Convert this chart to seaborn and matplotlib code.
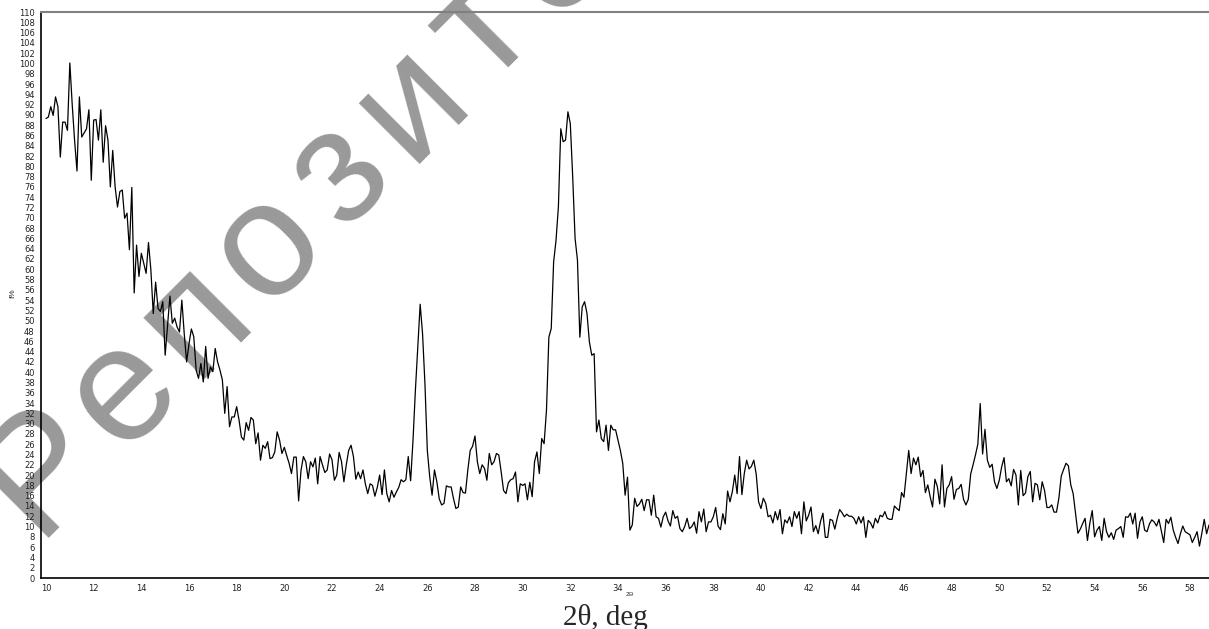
import numpy as np
import pandas as pd
import matplotlib
matplotlib.use("Agg")
import matplotlib.pyplot as plt
from matplotlib.ticker import MultipleLocator
import seaborn as sns

# XRD pattern, 2theta from 10.0 deg with a 0.1 deg step
two_theta_start = 10.0
two_theta_step = 0.1
intensity = [
    89.3, 89.6, 91.6, 89.9, 93.5, 91.6, 81.8, 88.6, 88.6, 87.0,   # 10
    100.1, 92.0, 85.0, 79.1, 93.5, 85.7, 86.5, 87.3, 91.0, 77.3,  # 11
    89.0, 89.1, 85.1, 91.0, 80.8, 87.9, 85.1, 76.0, 83.1, 76.0,   # 12
    72.1, 75.1, 75.4, 69.9, 70.9, 63.8, 75.9, 55.4, 64.7, 58.6,   # 13
    63.1, 61.2, 59.2, 65.2, 59.9, 51.4, 57.5, 52.4, 51.8, 53.7,   # 14
    43.3, 49.0, 54.8, 49.5, 50.5, 48.8, 47.8, 54.0, 47.5, 42.0,   # 15
    45.5, 48.4, 46.9, 40.4, 38.8, 41.7, 38.1, 45.0, 38.8, 41.0,   # 16
    40.1, 44.6, 42.0, 40.4, 38.5, 32.0, 37.2, 29.4, 31.3, 31.3,   # 17
    33.3, 30.7, 27.4, 26.8, 30.2, 28.7, 31.2, 30.7, 26.1, 28.2,   # 18
    22.9, 25.8, 25.2, 26.5, 23.2, 23.4, 24.5, 28.4, 26.8, 24.2,   # 19
    25.4, 23.8, 22.3, 20.3, 23.5, 23.5, 15.0, 20.9, 23.6, 22.6,   # 20
    19.3, 22.6, 21.6, 23.3, 18.3, 23.6, 22.0, 20.5, 21.0, 24.1,   # 21
    23.0, 19.0, 20.0, 24.4, 22.6, 18.7, 22.0, 24.8, 25.8, 23.6,   # 22
    19.2, 20.6, 19.3, 21.0, 18.3, 16.4, 18.3, 18.0, 15.9, 17.6,   # 23
    20.0, 16.2, 21.0, 16.4, 14.8, 17.0, 15.7, 16.7, 17.6, 19.1,   # 24
    18.7, 19.1, 23.6, 18.9, 26.8, 36.5, 44.9, 53.2, 47.5, 37.8,   # 25
    24.8, 19.7, 16.1, 21.0, 18.7, 15.4, 14.2, 14.5, 17.9, 17.7,   # 26
    17.7, 15.4, 13.5, 13.8, 17.7, 16.6, 16.5, 21.0, 24.8, 25.6,   # 27
    27.6, 22.6, 20.3, 22.0, 21.3, 19.0, 24.2, 22.0, 22.6, 24.2,   # 28
    23.9, 20.6, 17.0, 16.4, 18.5, 19.1, 19.3, 20.6, 14.8, 18.3,   # 29
    18.0, 18.3, 15.2, 18.6, 15.8, 22.6, 24.5, 20.3, 27.1, 26.1,   # 30
    32.6, 46.8, 48.5, 61.4, 65.6, 72.1, 87.3, 84.8, 85.1, 90.6,   # 31
    88.3, 78.0, 66.0, 61.8, 46.8, 52.7, 53.7, 51.4, 45.9, 43.3,   # 32
    43.6, 28.4, 30.7, 27.1, 26.5, 29.7, 24.8, 29.7, 28.8, 28.8,   # 33
    26.8, 24.8, 22.3, 16.1, 19.6, 9.3, 10.3, 15.5, 13.9, 14.4,    # 34
    15.3, 13.1, 15.2, 15.2, 12.2, 16.1, 11.9, 11.6, 9.9, 11.9,    # 35
    12.8, 11.1, 10.1, 13.1, 11.6, 12.0, 9.6, 9.0, 10.0, 11.6,     # 36
    9.6, 10.0, 10.9, 8.7, 12.9, 10.9, 13.4, 9.0, 10.9, 10.9,      # 37
    11.9, 13.7, 10.1, 9.4, 12.5, 10.5, 16.9, 14.8, 16.8, 20.0,    # 38
    16.4, 23.6, 16.2, 20.3, 22.9, 21.2, 21.7, 22.9, 20.2, 14.8,   # 39
    13.5, 15.5, 14.5, 11.9, 12.2, 10.7, 12.9, 11.3, 13.3, 8.6,    # 40
    11.3, 10.7, 11.9, 10.0, 12.9, 11.6, 12.9, 8.6, 14.8, 11.1,    # 41
    12.2, 13.8, 9.0, 10.2, 8.6, 11.0, 12.6, 7.9, 7.9, 11.4,       # 42
    11.2, 9.5, 11.6, 13.3, 12.7, 11.9, 12.4, 12.0, 12.0, 11.6,    # 43
    10.5, 11.9, 10.7, 11.9, 7.9, 11.2, 10.7, 9.7, 11.6, 10.7,     # 44
    12.2, 11.9, 12.9, 11.6, 11.4, 11.4, 14.0, 13.5, 13.1, 16.6,   # 45
    15.7, 20.2, 24.8, 20.3, 23.3, 22.0, 23.5, 19.7, 20.9, 16.6,   # 46
    18.1, 15.8, 13.8, 19.2, 17.8, 14.4, 22.0, 13.8, 17.4, 18.1,   # 47
    19.7, 15.3, 17.2, 17.4, 18.2, 15.3, 14.2, 15.3, 20.2, 22.0,   # 48
    23.9, 26.0, 33.9, 24.1, 28.9, 22.9, 21.5, 22.1, 18.7, 17.4,   # 49
    19.0, 21.6, 23.4, 18.7, 19.3, 17.9, 21.1, 20.0, 14.2, 20.9,   # 50
    16.0, 16.5, 19.7, 20.7, 14.8, 18.4, 18.1, 15.2, 18.7, 17.0,   # 51
    13.7, 13.7, 14.2, 12.8, 12.8, 15.5, 19.8, 21.1, 22.3, 21.8,   # 52
    18.1, 16.4, 12.6, 8.7, 9.5, 10.6, 11.6, 7.3, 10.7, 13.1,      # 53
    8.0, 9.3, 10.0, 7.3, 11.6, 9.0, 7.9, 8.8, 7.5, 9.3,           # 54
    9.6, 10.0, 7.9, 11.9, 11.8, 12.6, 10.5, 12.6, 7.7, 10.9,      # 55
    11.9, 9.3, 9.0, 10.5, 11.3, 10.9, 10.1, 11.4, 9.2, 6.9,       # 56
    11.4, 10.6, 11.8, 9.3, 7.9, 6.7, 8.6, 10.1, 9.0, 8.7,         # 57
    8.4, 6.9, 7.9, 9.0, 6.2, 8.7, 11.4, 8.6, 10.3,                # 58
]

x_ticks = list(range(10, 59, 2))
y_ticks = list(range(0, 111, 2))
watermark = "Репозиторий"

W, H = 1209, 629

two_theta = np.round(two_theta_start + two_theta_step * np.arange(len(intensity)), 1)
df = pd.DataFrame({"two_theta": two_theta, "intensity": intensity})

sns.set_style("white")
plt.rcParams["font.family"] = ["Liberation Sans", "DejaVu Sans"]

fig = plt.figure(figsize=(W / 100, H / 100), dpi=100)
ax = fig.add_axes([41 / W, 1 - 578 / H, 1 - 41 / W, (578 - 12) / H])
ax.set_facecolor("none")

# watermark: letters on a 45 degree baseline, drawn behind the axes
r2 = np.sqrt(2)
t_base = 573 / r2
for i, ch in enumerate(watermark):
    s = -300.8 if i == 0 else -188.8 + 101.8 * (i - 1)
    px, py = (s + t_base) / r2, (t_base - s) / r2
    fig.text(px / W, 1 - py / H, ch, rotation=45, rotation_mode="anchor",
             ha="center", va="baseline", fontsize=118, color="#999999",
             family="Liberation Sans", zorder=-1)

sns.lineplot(data=df, x="two_theta", y="intensity", color="black", lw=0.9, ax=ax)

ax.set_xlim(9.79, 58.8)
ax.set_ylim(0, 110)
ax.set_xticks(x_ticks)
ax.set_yticks(y_ticks)
ax.xaxis.set_minor_locator(MultipleLocator(0.5))
ax.yaxis.set_minor_locator(MultipleLocator(0.5))
ax.tick_params(which="major", direction="out", length=3.5, width=0.8,
               labelsize=6, pad=1, colors="black", labelcolor="#222222")
ax.tick_params(which="minor", direction="out", length=2, width=0.6)
for lab in ax.get_xticklabels() + ax.get_yticklabels():
    lab.set_family("DejaVu Sans")
ax.set_xlabel("")
ax.set_ylabel("")

for side in ["left", "bottom"]:
    ax.spines[side].set_color("black")
    ax.spines[side].set_linewidth(1.2)
ax.spines["top"].set_color("#808080")
ax.spines["top"].set_linewidth(1.5)
ax.spines["right"].set_visible(False)

fig.text(13 / W, 1 - 293 / H, "I%", rotation=90, fontsize=6,
         ha="center", va="center")
fig.text(630 / W, 1 - 594 / H, "2Θ", fontsize=4.5, ha="center", va="center")
fig.text(605 / W, 1 - 625 / H, "2θ, deg", fontsize=21, ha="center",
         va="baseline", family="Liberation Serif")

plt.savefig("out.png", dpi=100)
